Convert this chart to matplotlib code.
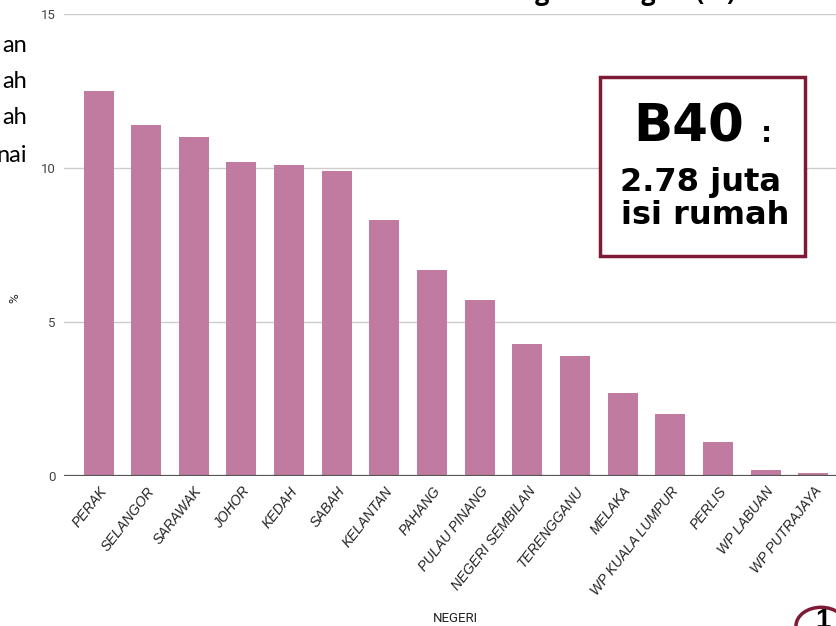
import matplotlib
matplotlib.use("Agg")
import matplotlib.pyplot as plt
from matplotlib.patches import Rectangle, Circle

negeri = ["PERAK", "SELANGOR", "SARAWAK", "JOHOR", "KEDAH", "SABAH", "KELANTAN",
          "PAHANG", "PULAU PINANG", "NEGERI SEMBILAN", "TERENGGANU", "MELAKA",
          "WP KUALA LUMPUR", "PERLIS", "WP LABUAN", "WP PUTRAJAYA"]
peratus = [12.5, 11.4, 11.0, 10.2, 10.1, 9.9, 8.3, 6.7, 5.7, 4.3, 3.9, 2.7, 2.0, 1.1, 0.2, 0.1]
yticks = [0, 5, 10, 15]

W, H = 837, 626
fig = plt.figure(figsize=(W / 100, H / 100), dpi=100)

def px(x, y):
    # piksel -> koordinat figura
    return x / W, 1 - y / H

ax = fig.add_axes([64 / W, (H - 476) / H, (W - 64) / W, 462 / H])
x = list(range(len(negeri)))
ax.bar(x, peratus, width=0.63, color="#c27ba0", zorder=3)
ax.set_ylim(0, 15)
ax.set_xlim(-0.725, 15.5)
ax.set_yticks(yticks)
ax.set_yticklabels([str(v) for v in yticks], fontsize=9.5, color="#444444", family="Roboto")
ax.yaxis.grid(True, color="#cccccc", lw=1, zorder=0)
ax.axhline(0, color="#555555", lw=1.6, zorder=4)
ax.set_xticks(x)
ax.set_xticklabels(negeri, rotation=52, ha="right", rotation_mode="anchor",
                   fontsize=10, style="italic", color="#222222", family="Liberation Sans")
ax.tick_params(length=0, pad=6)
for s in ax.spines.values():
    s.set_visible(False)

fig.text(*px(455, 618), "NEGERI", fontsize=9.5, color="#222222", ha="center", va="center", family="Roboto")
fig.text(*px(15, 298), "%", fontsize=9.5, color="#222222", ha="center", va="center", rotation=90, family="Roboto")

# tajuk (terpotong di atas, seperti dalam slaid)
fig.text(*px(462, 0), "Sebaran Isi Rumah B40 Mengikut Negeri (%)", fontsize=18, weight="bold",
         ha="center", va="baseline", family="Open Sans")

# teks slaid di kiri (terpotong)
for yy, t in zip([45, 81, 118, 156], ["an", "ah", "ah", "nai"]):
    fig.text(*px(27, yy), t, fontsize=17, ha="right", va="center", family="Lato")

# kotak B40
kotak = Rectangle(px(600, 256), 205 / W, 179 / H, transform=fig.transFigure,
                  facecolor="white", edgecolor="#7e1a35", lw=2.5, zorder=10)
fig.patches.append(kotak)
fig.text(*px(689, 127), "B40", fontsize=37, weight="bold", ha="center", va="center",
         family="DejaVu Sans", zorder=11)
fig.text(*px(766, 134), ":", fontsize=20, weight="bold", ha="center", va="center",
         family="DejaVu Sans", zorder=11)
fig.text(*px(700, 182), "2.78 juta", fontsize=23, weight="bold", ha="center", va="center",
         family="DejaVu Sans", zorder=11)
fig.text(*px(705, 216), "isi rumah", fontsize=23, weight="bold", ha="center", va="center",
         family="DejaVu Sans", zorder=11)

# bulatan nombor halaman
bulat = Circle(px(821, 626), 25 / W, transform=fig.transFigure, facecolor="white",
               edgecolor="#7e1a35", lw=2.5, zorder=10)
fig.patches.append(bulat)
fig.text(*px(823, 628), "1", fontsize=20, weight="bold", ha="center", va="baseline",
         family="Liberation Sans", zorder=11)

fig.savefig("out.png", dpi=100)
